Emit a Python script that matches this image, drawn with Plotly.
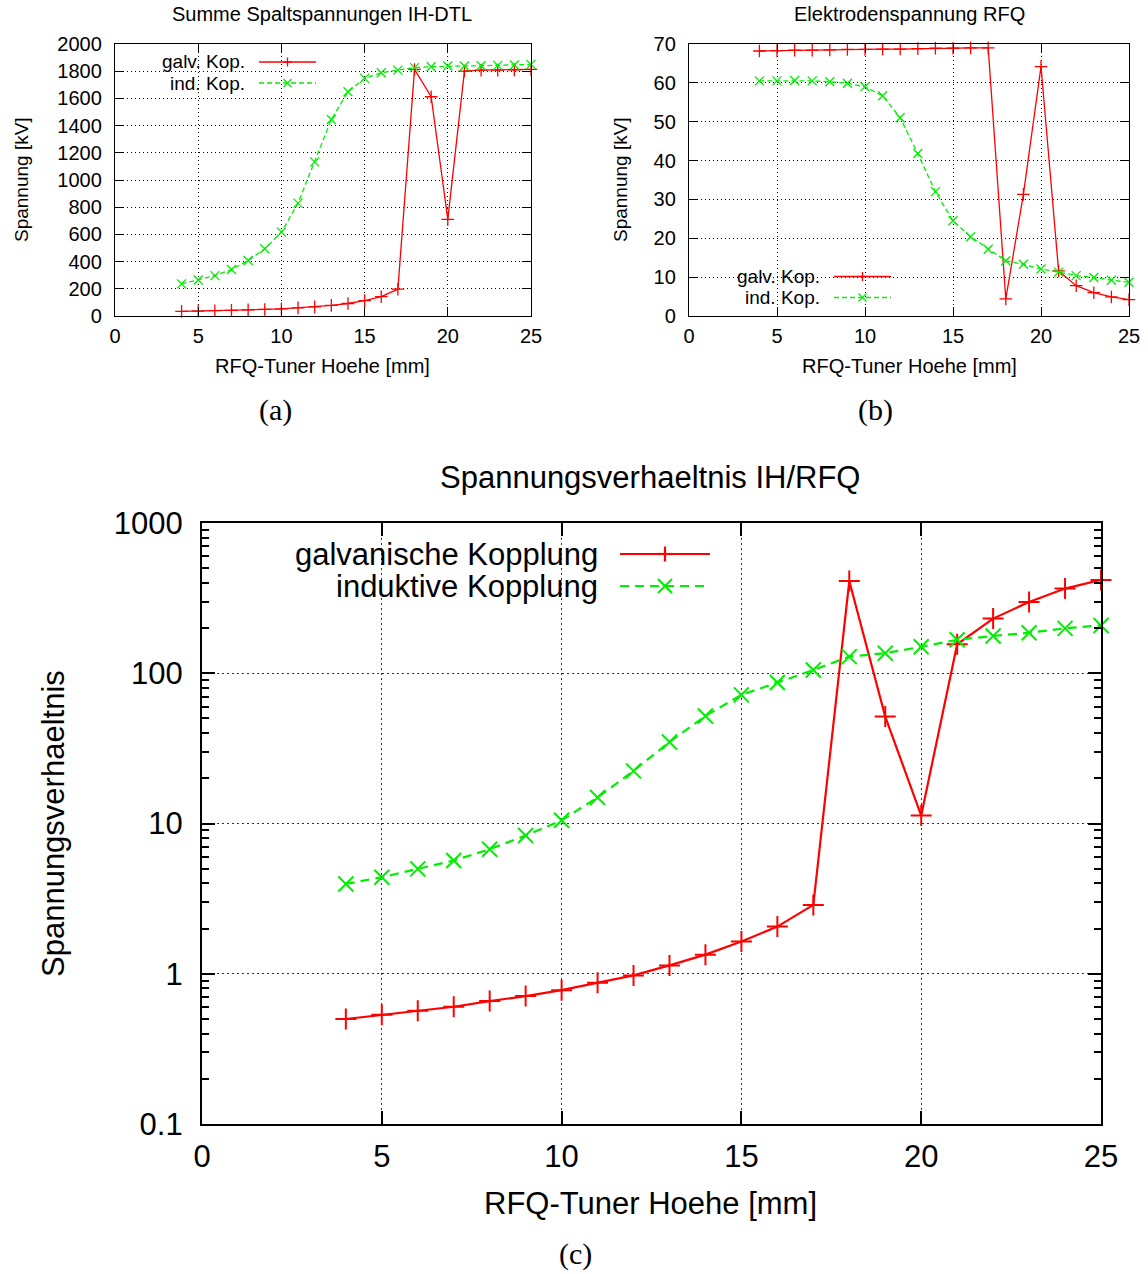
import plotly.graph_objects as go

# ---------------- data ----------------
tuner_mm = list(range(4, 26))

a_galv = [34, 36, 39, 41, 45, 48, 53, 60, 67, 78, 92, 113, 142, 197,
          1813, 1612, 710, 1801, 1808, 1808, 1810, 1813]
a_ind = [236, 265, 297, 342, 408, 494, 617, 830, 1133, 1445, 1649, 1747,
         1789, 1808, 1826, 1833, 1838, 1838, 1840, 1843, 1845, 1850]

b_galv = [68.2, 68.3, 68.4, 68.4, 68.5, 68.6, 68.6, 68.7, 68.7, 68.8, 68.9,
          68.9, 69.0, 69.0, 4.4, 31.3, 64.2, 11.6, 7.8, 6.0, 4.9, 4.2]
b_ind = [60.5, 60.5, 60.6, 60.5, 60.3, 59.9, 59.0, 56.7, 51.0, 41.8, 32.0,
         24.5, 20.4, 17.2, 14.2, 13.3, 12.1, 11.3, 10.4, 9.9, 9.2, 8.7]

c_galv = [0.50, 0.533, 0.567, 0.603, 0.658, 0.71, 0.778, 0.871, 0.975, 1.136,
          1.34, 1.64, 2.06, 2.87, 411, 51.5, 11.3, 156, 231, 298, 366, 418]
c_ind = [3.96, 4.39, 4.99, 5.67, 6.74, 8.32, 10.5, 14.9, 22.4, 34.9, 52, 71.8,
         86.7, 105, 129, 136, 150, 167, 177, 186, 199, 208]

x_ticks = [0, 5, 10, 15, 20, 25]
a_yticks = list(range(0, 2001, 200))
b_yticks = list(range(0, 71, 10))
c_yticks = [0.1, 1, 10, 100, 1000]
c_yticklabels = ["0.1", "1", "10", "100", "1000"]

title_a = "Summe Spaltspannungen IH-DTL"
title_b = "Elektrodenspannung RFQ"
title_c = "Spannungsverhaeltnis IH/RFQ"
xlabel = "RFQ-Tuner Hoehe [mm]"
ylabel_ab = "Spannung [kV]"
ylabel_c = "Spannungsverhaeltnis"
leg_short = ["galv. Kop.", "ind. Kop."]
leg_long = ["galvanische Kopplung", "induktive Kopplung"]

RED = "#ff0000"
GREEN = "#00ee00"
W, H = 1148, 1274
FONT = "Liberation Sans, Arial, Helvetica, sans-serif"
SERIF = "Liberation Serif, DejaVu Serif, serif"
FS_S = 20     # small panels
FS_L = 31     # large panel


def px(x):
    return x / W


def py(y):
    return 1 - y / H


fig = go.Figure()

# ---------------- traces ----------------
def add_pair(galv, ind, xa, ya, lw, msize, mlw, dash):
    fig.add_trace(go.Scatter(
        x=tuner_mm, y=galv, mode="lines+markers", xaxis=xa, yaxis=ya,
        line=dict(color=RED, width=lw),
        marker=dict(symbol="cross-thin", size=msize, color=RED,
                    line=dict(color=RED, width=mlw)),
        showlegend=False, cliponaxis=False))
    fig.add_trace(go.Scatter(
        x=tuner_mm, y=ind, mode="lines+markers", xaxis=xa, yaxis=ya,
        line=dict(color=GREEN, width=lw, dash=dash),
        marker=dict(symbol="x-thin", size=msize, color=GREEN,
                    line=dict(color=GREEN, width=mlw)),
        showlegend=False, cliponaxis=False))


add_pair(a_galv, a_ind, "x", "y", 1.3, 9, 1.3, "5px,3px")
add_pair(b_galv, b_ind, "x2", "y2", 1.3, 9, 1.3, "5px,3px")
add_pair(c_galv, c_ind, "x3", "y3", 2.2, 15, 2.0, "9px,6px")

# ---------------- axes ----------------
def xax(domain, anchor, fs, lw, tl, standoff):
    return dict(domain=domain, anchor=anchor, range=[0, 25], tickvals=x_ticks,
                automargin=False,
                showline=True, linecolor="black", linewidth=lw, mirror="ticks",
                ticks="inside", ticklen=tl, tickwidth=lw * 0.8, tickcolor="black",
                showgrid=True, gridcolor="black", gridwidth=1, griddash="1px,3px",
                zeroline=False, tickfont=dict(family=FONT, size=fs, color="black"),
                ticklabelstandoff=standoff)


def yax(domain, anchor, fs, lw, tl, standoff, rng, vals, **kw):
    d = dict(domain=domain, anchor=anchor, range=rng, tickvals=vals,
             automargin=False,
             showline=True, linecolor="black", linewidth=lw, mirror="ticks",
             ticks="inside", ticklen=tl, tickwidth=lw * 0.8, tickcolor="black",
             showgrid=True, gridcolor="black", gridwidth=1, griddash="1px,3px",
             zeroline=False, tickfont=dict(family=FONT, size=fs, color="black"),
             ticklabelstandoff=standoff)
    d.update(kw)
    return d


dom_a_x = [px(115), px(531)]
dom_b_x = [px(689), px(1129)]
dom_ab_y = [py(316), py(44)]
dom_c_x = [px(202), px(1101)]
dom_c_y = [py(1124), py(523)]

minor_vals = [k * 10 ** e for e in range(-1, 3) for k in range(2, 10)]

fig.update_layout(
    width=W, height=H, autosize=False,
    margin=dict(l=0, r=0, t=0, b=0, autoexpand=False),
    paper_bgcolor="white", plot_bgcolor="white",
    showlegend=False,
    xaxis=xax(dom_a_x, "y", FS_S, 1.3, 9, 2),
    yaxis=yax(dom_ab_y, "x", FS_S, 1.3, 9, 8, [0, 2000], a_yticks),
    xaxis2=xax(dom_b_x, "y2", FS_S, 1.3, 9, 2),
    yaxis2=yax(dom_ab_y, "x2", FS_S, 1.3, 9, 8, [0, 70], b_yticks),
    xaxis3=dict(xax(dom_c_x, "y3", FS_L, 2.2, 13, 4), gridcolor="#333",
                griddash="2px,3px"),
    yaxis3=yax(dom_c_y, "x3", FS_L, 2.2, 13, 11, [-1, 3], c_yticks,
               type="log", ticktext=c_yticklabels, gridcolor="#333",
               griddash="2px,3px",
               minor=dict(tickvals=minor_vals, ticks="inside", ticklen=7,
                          tickwidth=1.6, tickcolor="black", showgrid=False)),
)

# ---------------- text ----------------
def txt(x, y, s, size, xanchor="center", angle=0, family=FONT):
    fig.add_annotation(x=px(x), y=py(y), xref="paper", yref="paper", text=s,
                       showarrow=False, xanchor=xanchor, yanchor="middle",
                       textangle=angle, borderpad=0,
                       font=dict(family=family, size=size, color="black"))


txt(322, 14, title_a, FS_S)
txt(909, 14, title_b, FS_S)
txt(650, 477, title_c, FS_L)
txt(322, 366, xlabel, FS_S)
txt(909, 366, xlabel, FS_S)
txt(650, 1203, xlabel, FS_L)
txt(21, 180, ylabel_ab, 19, angle=-90)
txt(620, 180, ylabel_ab, 19, angle=-90)
txt(53, 824, ylabel_c, FS_L, angle=-90)
txt(275, 410, "(a)", 30, family=SERIF)
txt(875, 410, "(b)", 30, family=SERIF)
txt(575, 1254, "(c)", 30, family=SERIF)

# ---------------- legends (gnuplot style: text, then sample) ----------------
shapes = []
# opaque key boxes of (a) and (b)
shapes.append(dict(type="rect", xref="paper", yref="paper", x0=px(116), x1=px(328),
                   y0=py(95), y1=py(45), fillcolor="white", line=dict(width=0),
                   layer="between"))
shapes.append(dict(type="rect", xref="paper", yref="paper", x0=px(690), x1=px(903),
                   y0=py(315), y1=py(263), fillcolor="white", line=dict(width=0),
                   layer="between"))


def key(text_right, x0, x1, y, label, color, dash, sym, half, lw, fs):
    txt(text_right, y, label, fs, xanchor="right")
    shapes.append(dict(type="line", xref="paper", yref="paper", x0=px(x0), x1=px(x1),
                       y0=py(y), y1=py(y), line=dict(color=color, width=lw, dash=dash)))
    xc = (x0 + x1) / 2
    if sym == "+":
        segs = [((xc - half, y), (xc + half, y)), ((xc, y - half), (xc, y + half))]
    else:
        segs = [((xc - half, y - half), (xc + half, y + half)),
                ((xc - half, y + half), (xc + half, y - half))]
    for (ax, ay), (bx, by) in segs:
        shapes.append(dict(type="line", xref="paper", yref="paper", x0=px(ax), x1=px(bx),
                           y0=py(ay), y1=py(by), line=dict(color=color, width=lw)))


key(246, 259, 316, 62, leg_short[0], RED, "solid", "+", 4.5, 1.3, 19)
key(246, 259, 316, 83, leg_short[1], GREEN, "5px,3px", "x", 4, 1.3, 19)
key(821, 834, 891, 276.5, leg_short[0], RED, "solid", "+", 4.5, 1.3, 19)
key(821, 834, 891, 297.5, leg_short[1], GREEN, "5px,3px", "x", 4, 1.3, 19)
key(599, 620, 710, 554, leg_long[0], RED, "solid", "+", 7.5, 2.2, FS_L)
key(599, 620, 710, 586, leg_long[1], GREEN, "9px,6px", "x", 7, 2.2, FS_L)

fig.update_layout(shapes=shapes)

fig.write_html("out.html", config={"displayModeBar": False},
               post_script="document.body.style.margin='0';document.body.style.padding='0';")
